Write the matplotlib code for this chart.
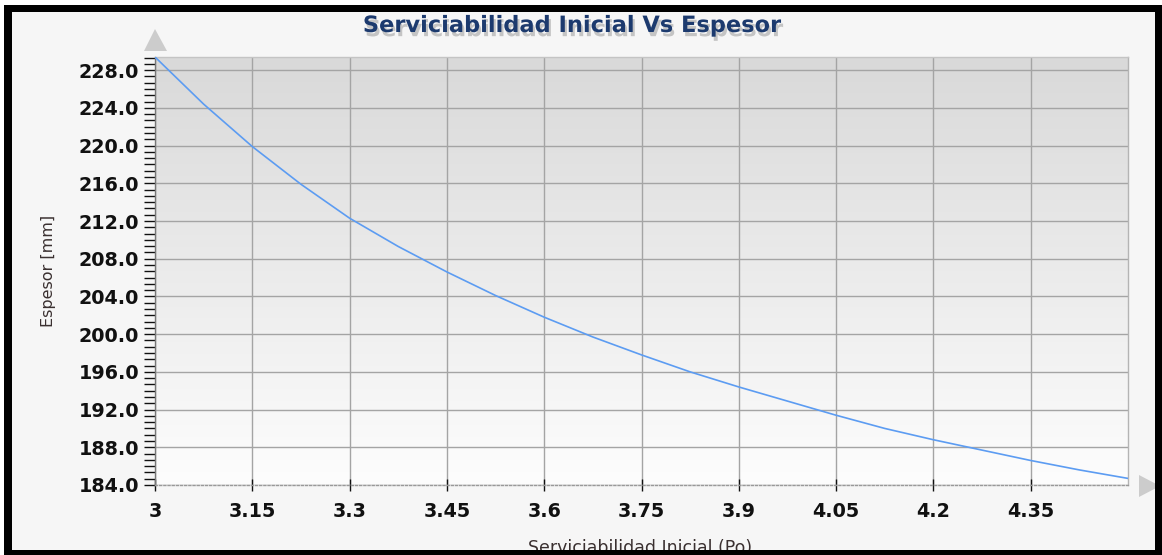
import matplotlib
matplotlib.use('Agg')
import matplotlib.pyplot as plt
import matplotlib.patches as patches
import matplotlib.patheffects as pe
from matplotlib.ticker import MultipleLocator, AutoMinorLocator, FormatStrFormatter
import numpy as np

W, H = 1162, 555

# values
po = [3.0, 3.075, 3.15, 3.225, 3.3, 3.375, 3.45, 3.525, 3.6, 3.675, 3.75,
      3.825, 3.9, 3.975, 4.05, 4.125, 4.2, 4.275, 4.35, 4.425, 4.5]
espesor = [229.4, 224.4, 219.9, 215.9, 212.3, 209.3, 206.6, 204.1, 201.8, 199.7, 197.8,
           196.0, 194.4, 192.9, 191.4, 190.0, 188.8, 187.7, 186.6, 185.6, 184.7]
xticks = [3, 3.15, 3.3, 3.45, 3.6, 3.75, 3.9, 4.05, 4.2, 4.35]
xticklabels = ["3", "3.15", "3.3", "3.45", "3.6", "3.75", "3.9", "4.05", "4.2", "4.35"]

title = "Serviciabilidad Inicial Vs Espesor"
xlabel = "Serviciabilidad Inicial (Po)"
ylabel = "Espesor [mm]"


def px(x, y):
	# pixel position (from top-left) -> figure fraction
	return (x / W, 1 - y / H)


fig = plt.figure(figsize=(W / 100, H / 100), dpi=100)
fig.patch.set_facecolor("white")

# inner panel background
fig.patches.append(patches.Rectangle(px(12, 550), (1155 - 12) / W, (550 - 12) / H,
	transform=fig.transFigure, facecolor="#f6f6f6", edgecolor="none", zorder=-10))

ax = fig.add_axes([155 / W, 1 - 485 / H, (1128 - 155) / W, (485 - 57) / H])
ax.set_facecolor("none")

# gradient behind the plot area (dark at top)
grad = np.linspace(0, 1, 256).reshape(-1, 1)
cmap = matplotlib.colors.LinearSegmentedColormap.from_list("bg", ["#d9d9d9", "#fdfdfd"])
ax.imshow(grad, extent=[0, 1, 0, 1], transform=ax.transAxes, cmap=cmap,
	aspect="auto", zorder=-5, interpolation="bilinear")

ax.plot(po, espesor, color="#5c9cf2", lw=1.2, zorder=3)

ax.set_xlim(3.0, 4.5)
ax.set_ylim(184.0, max(espesor))

ax.set_xticks(xticks)
ax.set_xticklabels(xticklabels)
ax.yaxis.set_major_locator(MultipleLocator(4))
ax.yaxis.set_minor_locator(AutoMinorLocator(6))
ax.yaxis.set_major_formatter(FormatStrFormatter("%.1f"))

ax.grid(True, which="major", color="#a4a4a4", lw=1.0, zorder=1)
ax.set_axisbelow(True)

for lab in ax.get_xticklabels() + ax.get_yticklabels():
	lab.set_fontweight("bold")
	lab.set_fontsize(13.8)
	lab.set_color("#111111")

ax.tick_params(axis="y", which="both", direction="out", length=8, width=1, color="#111111", pad=3.5)
ax.tick_params(axis="x", which="major", direction="inout", length=8, width=1, color="#111111", pad=8.5)

ax.spines["left"].set_color("#777777")
ax.spines["top"].set_color("#c4c4c4")
ax.spines["right"].set_color("#b4b4b4")
ax.spines["bottom"].set_color("#999999")
ax.spines["bottom"].set_linestyle((0, (1.5, 1.5)))
for s in ax.spines.values():
	s.set_linewidth(1)

ax.set_ylabel(ylabel, fontsize=11.5, color="#3a3030")
ax.yaxis.set_label_coords(-106 / (1128 - 155), 0.5)
ax.yaxis.label.set_va("center")
ax.set_xlabel(xlabel, fontsize=12.5, color="#3a3030")
ax.xaxis.set_label_coords((640 - 155) / (1128 - 155), -(548 - 485) / (485 - 57))
ax.xaxis.label.set_va("center")

fig.text(*px(572, 26), title, ha="center", va="center", fontsize=16.2,
	fontweight="bold", family="DejaVu Sans", color="#1c3a6e",
	path_effects=[pe.SimplePatchShadow(offset=(1.5, -3), shadow_rgbFace="#7a7a7a", alpha=0.4), pe.Normal()])

# axis arrows
fig.patches.append(patches.Polygon([px(155, 29), px(144, 51), px(167, 51)], closed=True,
	transform=fig.transFigure, facecolor="#cccccc", edgecolor="none", zorder=5))
fig.patches.append(patches.Polygon([px(1160, 486), px(1139, 475), px(1139, 497)], closed=True,
	transform=fig.transFigure, facecolor="#cccccc", edgecolor="none", zorder=5))

# black frame
for x0, y0, x1, y1 in [(4, 5, 1162, 12), (4, 550, 1162, 555), (4, 5, 12, 555), (1155, 5, 1162, 555)]:
	fig.patches.append(patches.Rectangle(px(x0, y1), (x1 - x0) / W, (y1 - y0) / H,
		transform=fig.transFigure, facecolor="black", edgecolor="none", zorder=10))

fig.savefig("out.png", dpi=100)
